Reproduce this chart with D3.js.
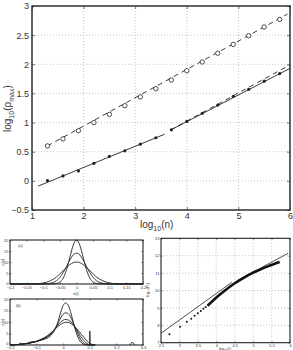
<!DOCTYPE html>
<html><head><meta charset="utf-8">
<script src="https://cdn.jsdelivr.net/npm/d3@7"></script>
<style>
html,body{margin:0;padding:0;background:#fff;}
svg{display:block;font-family:"Liberation Sans",Arial,sans-serif;}
</style></head><body>
<script>
// ---------- main panel data ----------
const nOpen = [1.3,1.6,1.9,2.2,2.5,2.8,3.1,3.4,3.7,4.0,4.3,4.6,4.9,5.2,5.5,5.8];
const rhoOpen = [0.60,0.72,0.86,1.00,1.14,1.29,1.44,1.58,1.73,1.89,2.04,2.19,2.34,2.49,2.64,2.77];
const nFilled = [1.3,1.6,1.9,2.2,2.5,2.8,3.1,3.4,3.7,4.0,4.3,4.6,4.9,5.2,5.5,5.8];
const rhoFilled = [0.005,0.085,0.17,0.30,0.42,0.515,0.63,0.74,0.875,1.02,1.16,1.30,1.45,1.57,1.71,1.84];
const fitOpenX = [1.3,5.95], fitOpenY = [0.60,2.86];
const fitSolid1X = [1.12,3.57], fitSolid1Y = [-0.09,0.80];
const fitSolid2X = [3.68,6.0], fitSolid2Y = [0.87,1.93];
const fitDash2X = [3.68,6.0], fitDash2Y = [0.87,1.99];
const mainXTicks = [1,2,3,4,5,6];
const mainYTicks = [-0.5,0,0.5,1,1.5,2,2.5,3];

// ---------- panel (a) ----------
const aX = [-0.2,-0.16,-0.13,-0.11,-0.09,-0.07,-0.06,-0.05,-0.04,-0.03,-0.02,-0.01,0,0.01,0.02,0.03,0.04,0.05,0.06,0.07,0.09,0.11,0.13,0.16,0.2];
const aY1 = [0,0,0,0,0,0.05,0.22,0.88,2.7,6.5,12.1,17.6,20,17.6,12.1,6.5,2.7,0.88,0.22,0.05,0,0,0,0,0];
const aY2 = [0,0,0,0.01,0.1,0.69,1.53,3.0,5.2,8.0,10.9,13.2,14,13.2,10.9,8.0,5.2,3.0,1.53,0.69,0.1,0.01,0,0,0];
const aY3 = [0,0,0.05,0.23,0.8,2.2,3.2,4.6,6.1,7.5,8.8,9.7,10,9.7,8.8,7.5,6.1,4.6,3.2,2.2,0.8,0.23,0.05,0,0];
const aXTicks = [-0.2,-0.15,-0.1,-0.05,0,0.05,0.1,0.15,0.2];
const pYTicks = [0,5,10,15,20];

// ---------- panel (b) ----------
const bX = [-0.2,-0.16,-0.12,-0.1,-0.08,-0.06,-0.04,-0.03,-0.02,-0.01,0,0.01,0.02,0.03,0.04,0.05,0.06,0.07,0.08,0.09,0.1,0.12];
const bY1 = [0,0.3,1.0,1.5,2.2,3.0,5.0,7.0,10,14,17.2,18.3,17,13.5,9,5,2.3,0.8,0.2,0.05,0,0];
const bY2 = [0,0.3,1.0,1.5,2.3,3.4,5.5,7.2,9.3,11.7,13.4,14,13.5,11.7,9,6.2,3.6,1.7,0.6,0.15,0,0];
const bY3 = [0,0.3,1.0,1.6,2.5,3.8,5.8,7.2,8.5,9.9,10.8,11.1,10.8,10,8.6,6.8,4.8,3,1.6,0.6,0.1,0];
const bY4 = [0,0.3,1.1,1.7,2.7,4.0,5.9,7.0,8.0,8.9,9.6,9.9,9.8,9.3,8.3,7.2,5.8,4.4,3.0,1.7,0.6,0];
const bSpikeX = [0.099,0.1,0.1,0.101], bSpikeY = [0,0,6.1,0];
const bBump1X = [-0.17,-0.16,-0.155], bBump1Y = [0,0.9,0];
const bBump2X = [-0.13,-0.12,-0.11], bBump2Y = [0.6,1.5,1.3];
const bBump3X = [0.25,0.26,0.27], bBump3Y = [0,1.3,0];
const bXTicks = [-0.2,-0.1,0,0.1,0.2,0.3];

// ---------- panel (c) ----------
const cDotX = [2.73,3.02,3.20,3.32,3.41,3.50,3.58,3.65,3.71];
const cDotY = [7.48,7.92,8.21,8.38,8.55,8.69,8.82,8.95,9.05];
const cBandX = [3.76,3.9,4.05,4.2,4.35,4.5,4.65,4.8,4.95,5.10,5.25,5.4,5.55,5.72];
const cBandY = [9.12,9.40,9.68,9.95,10.19,10.42,10.62,10.80,10.97,11.12,11.26,11.39,11.51,11.64];
const cLine1X = [2.5,4.42], cLine1Y = [7.54,10.47];
const cLine2X = [4.56,5.95], cLine2Y = [10.56,12.14];
const cXTicks = [2.5,3,3.5,4,4.5,5,5.5,6];
const cYTicks = [7,8,9,10,11,12,13];

const W = 293, H = 350;
const svg = d3.select("body").append("svg").attr("width",W).attr("height",H);
const ink = "#222";
const fmt = d => (d<0?"\u2212":"") + String(Math.abs(d));

function frame(g,x,y,xt,yt,opts){
  const [x0,x1]=x.range(),[y0,y1]=y.range();
  if(opts.grid){
    g.selectAll(".gx").data(xt.slice(1,-1)).join("line").attr("x1",d=>x(d)).attr("x2",d=>x(d)).attr("y1",y0).attr("y2",y1)
      .attr("stroke","#aaa").attr("stroke-width",0.7).attr("stroke-dasharray","1,2");
    g.selectAll(".gy").data(yt.slice(1,-1)).join("line").attr("class","gy").attr("y1",d=>y(d)).attr("y2",d=>y(d)).attr("x1",x0).attr("x2",x1)
      .attr("stroke","#aaa").attr("stroke-width",0.7).attr("stroke-dasharray","1,2");
  }
  const tl = opts.tick;
  const ax = d3.axisBottom(x).tickValues(xt).tickSize(-tl).tickFormat(opts.xf||fmt).tickPadding(opts.xpad||opts.pad);
  const ay = d3.axisLeft(y).tickValues(yt).tickSize(-tl).tickFormat(opts.yf||fmt).tickPadding(opts.pad);
  const gx = g.append("g").attr("transform",`translate(0,${y0})`).call(ax);
  const gy = g.append("g").attr("transform",`translate(${x0},0)`).call(ay);
  const gx2 = g.append("g").attr("transform",`translate(0,${y1})`).call(d3.axisTop(x).tickValues(xt).tickSize(-tl).tickFormat(""));
  const gy2 = g.append("g").attr("transform",`translate(${x1},0)`).call(d3.axisRight(y).tickValues(yt).tickSize(-tl).tickFormat(""));
  [gx,gy,gx2,gy2].forEach(s=>{ s.select(".domain").remove(); s.selectAll("line").attr("stroke",ink).attr("stroke-width",0.6);
    s.selectAll("text").attr("font-size",opts.fs).attr("fill","#333").attr("font-family","Liberation Sans, Arial, sans-serif");});
  if(opts.lift0) gy.selectAll("text").filter(d=>d===yt[0]).attr("dy",opts.lift0);
  g.append("rect").attr("x",x0).attr("y",y1).attr("width",x1-x0).attr("height",y0-y1)
    .attr("fill","none").attr("stroke",ink).attr("stroke-width",opts.sw);
}

// ===== main panel =====
const mx = d3.scaleLinear().domain([1,6]).range([32,290]);
const my = d3.scaleLinear().domain([-0.5,3]).range([210,6]);
const gm = svg.append("g");
frame(gm,mx,my,mainXTicks,mainYTicks,{grid:true,tick:3,fs:9,pad:3,sw:1.4});
const line = (x,y)=>d3.line().x(d=>x(d[0])).y(d=>y(d[1]));
const zip=(a,b)=>a.map((v,i)=>[v,b[i]]);
const mLine = line(mx,my);
gm.append("path").attr("d",mLine(zip(fitOpenX,fitOpenY))).attr("fill","none").attr("stroke",ink).attr("stroke-width",0.9).attr("stroke-dasharray","5,4");
gm.append("path").attr("d",mLine(zip(fitSolid1X,fitSolid1Y))).attr("fill","none").attr("stroke",ink).attr("stroke-width",0.9);
gm.append("path").attr("d",mLine(zip(fitSolid2X,fitSolid2Y))).attr("fill","none").attr("stroke",ink).attr("stroke-width",0.9);
gm.append("path").attr("d",mLine(zip(fitDash2X,fitDash2Y))).attr("fill","none").attr("stroke",ink).attr("stroke-width",0.9).attr("stroke-dasharray","5,4");
gm.selectAll(".o").data(zip(nOpen,rhoOpen)).join("circle").attr("cx",d=>mx(d[0])).attr("cy",d=>my(d[1])).attr("r",2.2)
  .attr("fill","#fff").attr("stroke",ink).attr("stroke-width",0.8);
gm.selectAll(".f").data(zip(nFilled,rhoFilled)).join("circle").attr("cx",d=>mx(d[0])).attr("cy",d=>my(d[1])).attr("r",1.6).attr("fill",ink);
const xl = gm.append("text").attr("x",140).attr("y",228).attr("font-size",10).attr("fill","#333");
xl.append("tspan").text("log");
xl.append("tspan").attr("font-size",7).attr("dy",2.5).text("10");
xl.append("tspan").attr("dy",-2.5).text("(n)");
const yl = gm.append("text").attr("transform","translate(11,132) rotate(-90)").attr("font-size",10).attr("fill","#333");
yl.append("tspan").text("log");
yl.append("tspan").attr("font-size",7).attr("dy",2.5).text("10");
yl.append("tspan").attr("dy",-2.5).text("(\u03c1");
yl.append("tspan").attr("font-size",7).attr("dy",2.5).text("max");
yl.append("tspan").attr("dy",-2.5).text(")");

// ===== panel (a) =====
const axS = d3.scaleLinear().domain([-0.2,0.2]).range([10,143]);
const ayS = d3.scaleLinear().domain([0,20]).range([284,240]);
const ga = svg.append("g");
frame(ga,axS,ayS,aXTicks,pYTicks,{grid:false,tick:1.5,fs:4,pad:1.5,xpad:2.2,sw:1.1,lift0:"0.1em"});
const aLine = d3.line().x(d=>axS(d[0])).y(d=>ayS(d[1])).curve(d3.curveMonotoneX);
[aY1,aY2,aY3].forEach(ys=>ga.append("path").attr("d",aLine(zip(aX,ys))).attr("fill","none").attr("stroke",ink).attr("stroke-width",0.9));
ga.append("text").attr("x",18).attr("y",247).attr("font-size",4).attr("fill","#333").text("(a)");
ga.append("text").attr("x",76).attr("y",294.5).attr("font-size",4).attr("text-anchor","middle").attr("fill","#333").text("v(t)");
ga.append("text").attr("transform","translate(4,262) rotate(-90)").attr("font-size",4).attr("text-anchor","middle").attr("fill","#333").text("p(v)");

// ===== panel (b) =====
const bxS = d3.scaleLinear().domain([-0.2,0.3]).range([10,143]);
const byS = d3.scaleLinear().domain([0,20]).range([345,299]);
const gb = svg.append("g");
frame(gb,bxS,byS,bXTicks,pYTicks,{grid:false,tick:1.5,fs:4,pad:1.5,xpad:1.2,sw:1.1,lift0:"-0.15em"});
const bLine = d3.line().x(d=>bxS(d[0])).y(d=>byS(d[1])).curve(d3.curveMonotoneX);
[bY1,bY2,bY3,bY4].forEach(ys=>gb.append("path").attr("d",bLine(zip(bX,ys))).attr("fill","none").attr("stroke",ink).attr("stroke-width",0.9));
const bLin = d3.line().x(d=>bxS(d[0])).y(d=>byS(d[1]));
[[bSpikeX,bSpikeY],[bBump1X,bBump1Y],[bBump2X,bBump2Y],[bBump3X,bBump3Y]].forEach(([xs,ys])=>
  gb.append("path").attr("d",bLin(zip(xs,ys))).attr("fill","none").attr("stroke",ink).attr("stroke-width",0.9));
gb.append("text").attr("x",16).attr("y",307).attr("font-size",4).attr("fill","#333").text("(b)");
gb.append("text").attr("transform","translate(4,322) rotate(-90)").attr("font-size",4).attr("text-anchor","middle").attr("fill","#333").text("p(v)");

// ===== panel (c) =====
const cxS = d3.scaleLinear().domain([2.5,6]).range([161,290]);
const cyS = d3.scaleLinear().domain([7,13]).range([342.7,238.3]);
const gc = svg.append("g");
frame(gc,cxS,cyS,cXTicks,cYTicks,{grid:true,tick:1.5,fs:4,pad:1.5,sw:1.1});
const cLine = d3.line().x(d=>cxS(d[0])).y(d=>cyS(d[1]));
gc.append("path").attr("d",cLine(zip(cLine1X,cLine1Y))).attr("fill","none").attr("stroke",ink).attr("stroke-width",0.8);
gc.append("path").attr("d",cLine(zip(cLine2X,cLine2Y))).attr("fill","none").attr("stroke",ink).attr("stroke-width",0.8);
gc.append("path").attr("d",d3.line().x(d=>cxS(d[0])).y(d=>cyS(d[1])).curve(d3.curveBasis)(zip(cBandX,cBandY)))
  .attr("fill","none").attr("stroke","#111").attr("stroke-width",2.6);
gc.selectAll(".cd").data(zip(cDotX,cDotY)).join("circle").attr("cx",d=>cxS(d[0])).attr("cy",d=>cyS(d[1])).attr("r",1).attr("fill","#111");
gc.append("text").attr("transform","translate(149,290) rotate(-90)").attr("font-size",4).attr("text-anchor","middle").attr("fill","#333").text("log\u2081\u2080(P\u209c)");
gc.append("text").attr("x",225).attr("y",349.5).attr("font-size",4).attr("text-anchor","middle").attr("fill","#333").text("log\u2081\u2080(t)");
</script>
</body></html>
